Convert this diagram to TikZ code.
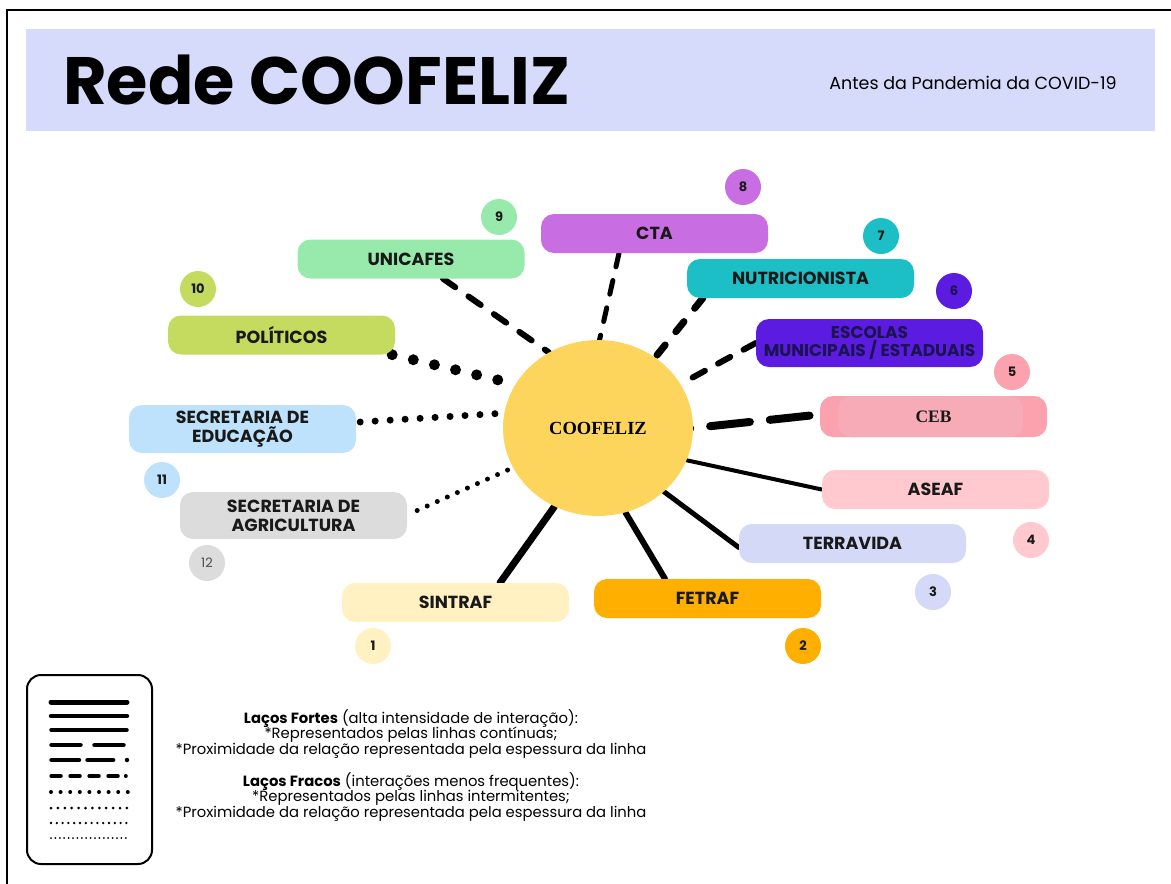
\documentclass[tikz,border=0pt]{standalone}
\usepackage{fontspec}
\setmainfont{Poppins}
\newfontfamily\timesb{Liberation Serif}
\usepackage{xcolor}
\usetikzlibrary{shapes.geometric,backgrounds}

\definecolor{cbanner}{HTML}{D6DAFB}
\definecolor{cfeliz}{HTML}{FDD55C}
\definecolor{csintraf}{HTML}{FFF1C1}
\definecolor{cfetraf}{HTML}{FFAF00}
\definecolor{cterra}{HTML}{D4D9F8}
\definecolor{caseaf}{HTML}{FFC9CF}
\definecolor{cceb}{HTML}{FBA2AE}
\definecolor{ccebin}{HTML}{F7ABB7}
\definecolor{cescola}{HTML}{5B1BE1}
\definecolor{cescolatxt}{HTML}{1B1450}
\definecolor{cnutri}{HTML}{1DBFC6}
\definecolor{ccta}{HTML}{C96DE2}
\definecolor{cunica}{HTML}{98EAAC}
\definecolor{cpoli}{HTML}{C5DB5F}
\definecolor{cseced}{HTML}{BEE2FB}
\definecolor{csecag}{HTML}{DCDCDC}

\begin{document}
\begin{tikzpicture}[x=1pt,y=-1pt,
		box/.style={rounded corners=13pt,minimum width=227pt,minimum height=39pt,inner sep=0pt,align=center,text=black!90,font=\fontsize{17.5}{19}\selectfont\bfseries},
		num/.style={circle,minimum size=36pt,inner sep=0pt,text=black!90,font=\fontsize{13}{13}\selectfont\bfseries},
		forte/.style={line cap=round,black},
		fraco/.style={line cap=round,black},
		legline/.style={line cap=round,black}]
	\useasboundingbox (0,0) rectangle (1171,884);
	\draw[line width=2.5pt] (7,884) -- (7,10) -- (1171,10);
	\fill[cbanner] (26,29) rectangle (1155,131);
	\node[anchor=base west,inner sep=0pt,font=\fontsize{67}{67}\selectfont\bfseries] (titulo) at (63,104) {Rede COOFELIZ};
	\node[font=\fontsize{17.5}{17.5}\selectfont] (subtitulo) at (973,83) {Antes da Pandemia da COVID-19};
	
	\node[ellipse,fill=cfeliz,minimum width=190pt,minimum height=176pt,inner sep=0pt,font=\timesb\fontsize{18.5}{18.5}\selectfont\bfseries] (coofeliz) at (598,428) {COOFELIZ};
	
	\node[box,fill=csintraf] (sintraf) at (455.5,602.5) {SINTRAF};
	\node[box,fill=cfetraf] (fetraf) at (707.5,598.5) {FETRAF};
	\node[box,fill=cterra] (terravida) at (852.5,543.5) {TERRAVIDA};
	\node[box,fill=caseaf] (aseaf) at (935.5,489.5) {ASEAF};
	\node[box,minimum height=41pt,fill=cceb,font=\timesb\fontsize{17.5}{17.5}\selectfont\bfseries,path picture={\fill[ccebin] ([xshift=18pt]path picture bounding box.south west) rectangle ([xshift=-24pt]path picture bounding box.north east);}] (ceb) at (933.5,416.5) {CEB};
	\node[box,minimum height=48pt,fill=cescola,text=cescolatxt,font=\fontsize{17}{18.5}\selectfont\bfseries] (escolas) at (869.5,343) {ESCOLAS\\MUNICIPAIS / ESTADUAIS};
	\node[box,fill=cnutri] (nutri) at (800.5,278.5) {NUTRICIONISTA};
	\node[box,fill=ccta] (cta) at (654.5,233.5) {CTA};
	\node[box,fill=cunica] (unicafes) at (411,259) {UNICAFES};
	\node[box,fill=cpoli] (politicos) at (281.5,335) {POLÍTICOS};
	\node[box,minimum height=48pt,fill=cseced] (seceduc) at (242.5,429) {SECRETARIA DE\\EDUCAÇÃO};
	\node[box,minimum height=47pt,fill=csecag] (secagri) at (293.5,515.5) {SECRETARIA DE\\AGRICULTURA};
	
	\node[num,fill=csintraf] (n1) at (373,646) {1};
	\node[num,fill=cfetraf] (n2) at (803,646) {2};
	\node[num,fill=cterra] (n3) at (933,592) {3};
	\node[num,fill=caseaf] (n4) at (1031,540) {4};
	\node[num,fill=cceb] (n5) at (1012,372) {5};
	\node[num,fill=cescola,text=cescolatxt] (n6) at (954,291) {6};
	\node[num,fill=cnutri] (n7) at (881,236) {7};
	\node[num,fill=ccta] (n8) at (743,187) {8};
	\node[num,fill=cunica] (n9) at (499,217) {9};
	\node[num,fill=cpoli] (n10) at (198,289) {10};
	\node[num,fill=cseced] (n11) at (162,480) {11};
	\node[num,fill=csecag,text=black!70,font=\fontsize{13}{13}\selectfont] (n12) at (207,563) {12};
	
	\begin{scope}[on background layer]
		\draw[forte,line width=7pt] (coofeliz.-119) -- ([xshift=44.5pt]sintraf.north);
		\draw[forte,line width=6pt] (coofeliz.-72) -- ([xshift=-42.5pt]fetraf.north);
		\draw[forte,line width=5pt] (coofeliz.-44) -- ([yshift=-4pt]terravida.west);
		\draw[forte,line width=4pt] (coofeliz.-20) -- (aseaf.west);
		\draw[fraco,line width=8pt,dash pattern=on 40pt off 20pt,dash phase=39pt,shorten <=-4pt] (coofeliz.0) -- ([yshift=2pt]ceb.west);
		\draw[fraco,line width=6pt,dash pattern=on 14pt off 15pt] (escolas.west) -- (coofeliz.28);
		\draw[fraco,line width=7pt,dash pattern=on 13pt off 17pt] ([xshift=16pt]nutri.south west) -- (coofeliz.51);
		\draw[fraco,line width=5pt,dash pattern=on 14pt off 14pt] ([xshift=-35.5pt]cta.south) -- (coofeliz.89);
		\draw[fraco,line width=6pt,dash pattern=on 15pt off 16pt] ([xshift=32pt]unicafes.south) -- (coofeliz.123);
		\draw[fraco,line width=11pt,dash pattern=on 0pt off 21.7pt] ([xshift=-3pt]politicos.south east) -- (coofeliz.152);
		\draw[fraco,line width=7pt,dash pattern=on 0pt off 15pt] ([xshift=4pt,yshift=7pt]seceduc.east) -- (coofeliz.171);
		\draw[fraco,line width=5pt,dash pattern=on 0pt off 11pt] ([xshift=10pt,yshift=5pt]secagri.east) -- (coofeliz.205);
	\end{scope}
	
	\node[draw,line width=2pt,rounded corners=14pt,minimum width=125pt,minimum height=189pt] (legenda) at (89.5,769.5) {};
	\draw[legline,line width=5pt] (51,702) -- (127,702);
	\draw[legline,line width=4.5pt] (51,716) -- (127,716);
	\draw[legline,line width=3.5pt] (51,730) -- (127,730);
	\draw[legline,line width=4.5pt,dash pattern=on 29pt off 14pt] (51.5,745) -- (126.5,745);
	\draw[legline,line width=4.5pt,dash pattern=on 27.5pt off 8.5pt on 25.7pt off 13.8pt on 0pt off 20pt] (51.5,760) -- (127.6,760);
	\draw[legline,line width=4pt,dash pattern=on 9.5pt off 9.5pt on 9.5pt off 9.5pt on 9.5pt off 9.5pt on 9.5pt off 8pt on 0pt off 20pt] (51.3,776) -- (126.5,776);
	\draw[legline,line width=4pt,dash pattern=on 0pt off 9.6pt] (51,792) -- (128.3,792);
	\draw[legline,line width=3pt,dash pattern=on 0pt off 6.9pt] (51,808) -- (127.3,808);
	\draw[legline,line width=2.6pt,dash pattern=on 0pt off 5.8pt] (51,823) -- (126.8,823);
	\draw[legline,line width=2pt,dash pattern=on 0pt off 4.4pt] (51,838) -- (126.2,838);
	
	\node[align=center,font=\fontsize{14.8}{15.6}\selectfont] (fortes) at (411,734) {\textbf{Laços Fortes} (alta intensidade de interação):\\{*}Representados pelas linhas contínuas;\\{*}Proximidade da relação representada pela espessura da linha};
	\node[align=center,font=\fontsize{14.8}{15.6}\selectfont] (fracos) at (411,797) {\textbf{Laços Fracos} (interações menos frequentes):\\{*}Representados pelas linhas intermitentes;\\{*}Proximidade da relação representada pela espessura da linha};
\end{tikzpicture}
\end{document}
